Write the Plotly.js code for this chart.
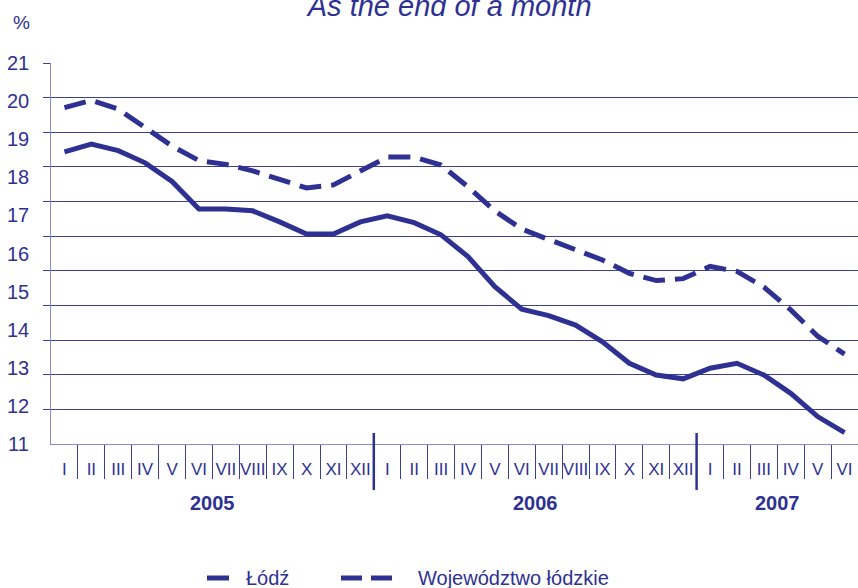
<!DOCTYPE html>
<html>
<head>
<meta charset="utf-8">
<script src="https://cdn.plot.ly/plotly-3.0.1.min.js"></script>
<style>html,body{margin:0;padding:0;background:#fff}#chart{width:858px;height:588px}</style>
</head>
<body>
<div id="chart"></div>
<script>
// ---- data ----
const titleText = 'As the end of a month';
const unitLabel = '%';
const romanMonths = ['I','II','III','IV','V','VI','VII','VIII','IX','X','XI','XII'];
const years = ['2005','2006','2007'];
const monthsPerYear = [12, 12, 6];
const seriesNames = ['Łódź', 'Województwo łódzkie'];
const lodz = [18.67, 18.87, 18.70, 18.38, 17.89, 17.17, 17.17, 17.12, 16.83, 16.51, 16.51, 16.83,
              16.99, 16.81, 16.49, 15.92, 15.13, 14.54, 14.37, 14.12, 13.68, 13.12, 12.81, 12.71,
              12.99, 13.12, 12.81, 12.33, 11.72, 11.30];
const woj  = [19.83, 20.02, 19.79, 19.32, 18.82, 18.44, 18.34, 18.17, 17.93, 17.72, 17.80, 18.17,
              18.53, 18.53, 18.32, 17.75, 17.12, 16.64, 16.37, 16.12, 15.83, 15.48, 15.29, 15.34,
              15.66, 15.53, 15.12, 14.52, 13.83, 13.36];
const yTicks = [11,12,13,14,15,16,17,18,19,20,21];
const gridIntervals = 11;   // the source draws 11 evenly spaced gridline bands

// ---- derived ----
const monthLabels = years.flatMap((y, i) => romanMonths.slice(0, monthsPerYear[i]));
const idx = monthLabels.map((_, i) => i);
const boundaries = idx.slice(0, -1).map(i => i + 0.5);
const yearStarts = monthsPerYear.map((n, i) => monthsPerYear.slice(0, i).reduce((a, b) => a + b, 0));
const yearCenters = yearStarts.map((s, i) => s + (monthsPerYear[i] - 1) / 2);
const yearDividers = yearStarts.slice(1).map(s => s - 0.5);
const yMin = yTicks[0], yMax = yTicks[yTicks.length - 1];
const gridVals = Array.from({length: gridIntervals}, (_, k) => yMin + (k + 1) * (yMax - yMin) / gridIntervals);

const NAVY = '#2E3192';
const FONT = 'Arial, "Liberation Sans", sans-serif';
const NARROW = '"Liberation Sans Narrow", "Arial Narrow", Arial, "Liberation Sans", sans-serif';

const traces = [
  {x: idx, y: lodz, type: 'scatter', mode: 'lines', name: seriesNames[0],
   line: {color: NAVY, width: 5}, showlegend: false, hoverinfo: 'skip'},
  {x: idx, y: woj, type: 'scatter', mode: 'lines', name: seriesNames[1],
   line: {color: NAVY, width: 5, dash: '22px,10px'}, showlegend: false, hoverinfo: 'skip'}
];

const plotH = 381, plotW = 807;
const shapes = yearDividers.map(b => ({
  type: 'line', xref: 'x', yref: 'paper', x0: b, x1: b,
  y0: -46 / plotH, y1: 11 / plotH, line: {color: NAVY, width: 2.5}
}));
// legend samples
shapes.push({type: 'line', xref: 'paper', yref: 'paper', x0: (207-51)/plotW, x1: (229-51)/plotW,
  y0: -134/plotH, y1: -134/plotH, line: {color: NAVY, width: 5}});
shapes.push({type: 'line', xref: 'paper', yref: 'paper', x0: (341-51)/plotW, x1: (392-51)/plotW,
  y0: -134/plotH, y1: -134/plotH, line: {color: NAVY, width: 5, dash: '21px,9px'}});

const annotations = years.map((y, i) => ({
  text: '<b>' + y + '</b>', x: yearCenters[i], xref: 'x', y: -59/plotH, yref: 'paper',
  showarrow: false, xanchor: 'center', yanchor: 'middle', font: {family: FONT, size: 20, color: NAVY}
}));
yTicks.forEach(v => annotations.push({
  text: String(v), x: (31-51)/plotW, xref: 'paper', y: v, yref: 'y', showarrow: false,
  xanchor: 'right', yanchor: 'middle', font: {family: FONT, size: 20, color: NAVY}
}));
annotations.push({text: unitLabel, xref: 'paper', yref: 'paper', x: (21-51)/plotW, y: 1 + 40/plotH,
  showarrow: false, xanchor: 'center', yanchor: 'middle', font: {family: FONT, size: 19, color: NAVY}});
annotations.push({text: seriesNames[0], xref: 'paper', yref: 'paper', x: (244-51)/plotW, y: -134/plotH,
  showarrow: false, xanchor: 'left', yanchor: 'middle', font: {family: FONT, size: 20, color: NAVY}});
annotations.push({text: seriesNames[1], xref: 'paper', yref: 'paper', x: (416-51)/plotW, y: -134/plotH,
  showarrow: false, xanchor: 'left', yanchor: 'middle', font: {family: FONT, size: 20, color: NAVY}});

const layout = {
  width: 858, height: 588,
  margin: {l: 51, r: 0, t: 63, b: 144, pad: 0},
  paper_bgcolor: '#ffffff', plot_bgcolor: '#ffffff',
  showlegend: false,
  title: {text: titleText, xref: 'paper', x: 0.494, xanchor: 'center', yref: 'container',
          y: 1 - 6/588, yanchor: 'middle',
          font: {family: FONT, size: 29, color: NAVY, style: 'italic'}},
  xaxis: {range: [-0.5, idx.length - 0.5], tickmode: 'array', tickvals: idx, ticktext: monthLabels,
          ticks: '', showgrid: false, zeroline: false, showline: true, linecolor: '#8a8cc4', linewidth: 1,
          tickfont: {family: NARROW, size: 17, color: NAVY}, ticklabelstandoff: 10, fixedrange: true,
          minor: {tickmode: 'array', tickvals: boundaries, ticks: 'outside', ticklen: 34, tickwidth: 1,
                  tickcolor: '#3c3f98', showgrid: false}},
  yaxis: {range: [yMin, yMax + 0.0005], tickmode: 'array', tickvals: gridVals, showticklabels: false,
          ticks: 'outside', ticklen: 7, tickwidth: 1, tickcolor: '#3d4099',
          showgrid: true, gridcolor: '#3d4099', gridwidth: 1, zeroline: false,
          showline: true, linecolor: '#8a8cc4', linewidth: 1, fixedrange: true},
  shapes: shapes,
  annotations: annotations
};

Plotly.newPlot('chart', traces, layout, {displayModeBar: false, staticPlot: true});
</script>
</body>
</html>
